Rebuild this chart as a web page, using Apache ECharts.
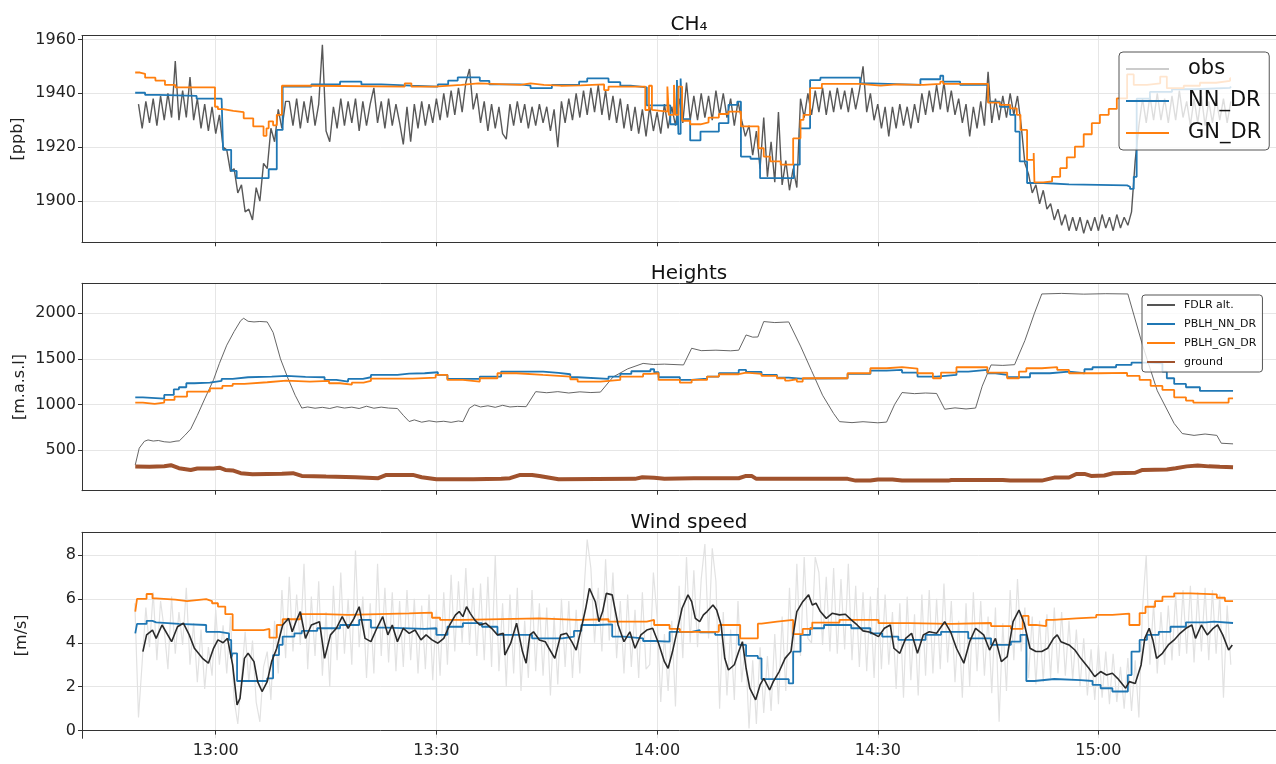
<!DOCTYPE html>
<html><head><meta charset="utf-8">
<script src="https://cdn.jsdelivr.net/npm/echarts@6/dist/echarts.min.js"></script>
<style>html,body{margin:0;padding:0;background:#fff}#c{width:1276px;height:764px}</style>
</head><body><div id="c"></div>
<script>
// time is in minutes after 12:00
const xTicks = [60, 90, 120, 150, 180];
const ch4Ticks = [1900, 1920, 1940, 1960];
const hTicks = [500, 1000, 1500, 2000];
const wTicks = [0, 2, 4, 6, 8];

// CH4 observations, every 0.5 min from 12:49:30
const obsStart = 49.5, obsStep = 0.5;
const obsValues = [
1936,1927,1937,1929,1938,1928,1939,1930,1940,1931,1952,1930,1941,1931,1946,1930,1938,1927,1936,1926,
1935,1925,1932,1920,1919,1911,1912,1903,1906,1896,1897,1893,1905,1900,1914,1912,1927,1922,1934,1927,1937,
1937,1928,1938,1927,1937,1929,1939,1928,1936,1958,
1926,1922,1935,1927,1938,1928,1937,1929,1938,1926,
1937,1928,1936,1942,1929,1937,1927,1938,1928,1936,
1929,1921,1935,1922,1936,1927,1937,1928,1936,1929,
1938,1930,1940,1931,1941,1932,1942,1933,1944,1949,
1934,1940,1929,1937,1926,1936,1927,1935,1925,1923,
1936,1928,1937,1929,
1936,1927,1935,1928,1936,1929,1935,1926,1934,1920,
1937,1929,1938,1930,1940,1931,1941,1932,1942,1933,
1943,1932,1941,1930,1939,1929,1938,1927,1936,1926,
1935,1925,1934,1924,1935,1926,1933,1925,1936,1927,
1935,1928,1938,1929,1944,1930,1939,1930,1940,1931,
1939,1930,1941,1932,1940,1931,1938,1928,1937,
1930,1924,1928,1917,1926,1912,1931,1909,1922,1907,1933,1906,1915,1904,1912,1905,
1938,1931,1940,1932,1941,1933,1942,1932,1941,1933,
1942,1934,1941,1933,1942,1934,1941,1950,1933,1940,
1930,1936,1927,1935,1924,1935,1927,1936,1928,1935,
1927,1936,1929,
1940,1932,1941,1933,1943,1934,1944,1933,1941,1932,
1938,1929,1936,1924,1935,1927,1937,1928,1948,1929,
1938,1930,1939,1931,1940,1932,1939,
1928,1914,1910,1903,1906,1899,1904,1897,1899,1893,1897,1891,1895,1889,1894,1889,1894,1888,1893,1889,
1894,1889,1895,1890,1894,1889,1895,1890,1894,1891,1896,1915,
1928,1938,1929,1939,1930,1940,1930,1938,1929,1939,1930,1941,1931,1937,1928,1938,1929,1939,1928,1937,
1929,1938,1930,1938,1929,1937
];

// CH4 model (step, value holds from given time)
const ch4NN = [[49.05,1940.2],[50.4,1939.4],[52.2,1939.0],[57.4,1938.0],[60.8,1938.6],[61.0,1919.0],[62.1,1911.2],[62.85,1908.5],[67.2,1911.8],[68.3,1926.4],[69.1,1942.5],[73.0,1943.3],[76.9,1944.3],[79.8,1943.3],[82.5,1942.8],[86.6,1942.5],[90.2,1943.3],[91.6,1944.7],[92.9,1945.9],[95.9,1944.6],[97.2,1943.3],[101.4,1942.8],[102.8,1941.9],[105.7,1943.1],[109.4,1944.3],[110.5,1945.5],[113.4,1944.1],[115.0,1942.8],[116.4,1942.2],[118.6,1935.5],[121.8,1928.5],[122.7,1944.9],[122.9,1924.9],[123.2,1945.5],[123.4,1930.4],[124.5,1922.5],[125.9,1925.8],[128.4,1928.9],[129.7,1935.7],[130.9,1936.9],[131.4,1916.5],[132.7,1915.7],[134.0,1908.5],[138.6,1913.5],[139.4,1927.0],[140.8,1944.9],[142.2,1945.8],[147.6,1943.7],[149.2,1943.1],[155.8,1945.2],[158.5,1946.5],[158.9,1944.3],[161.2,1943.1],[165.0,1936.9],[166.6,1935.0],[168.0,1932.0],[168.7,1925.8],[169.3,1914.7],[170.3,1906.7],[172.5,1906.2],[176,1906.0],[180,1905.8],[183.9,1905.3],[184.3,1904.5],[184.8,1909.0],[185.2,1938.0],[187,1940.5],[190,1941.5],[193,1942.0],[197.9,1942.5],[198,1942.5]];
const ch4GN = [[49.05,1947.7],[49.7,1947.2],[50.4,1945.8],[51.8,1944.7],[53.1,1943.1],[54.5,1942.2],[59.9,1935.0],[60.3,1934.1],[61.0,1933.5],[62.4,1933.0],[63.8,1930.7],[65.1,1927.7],[66.5,1924.2],[66.9,1927.0],[67.2,1929.6],[67.8,1928.1],[68.3,1932.0],[69.0,1942.8],[73.0,1942.5],[85.7,1943.7],[86.6,1942.5],[89.8,1943.1],[93.4,1943.7],[95.7,1943.1],[101.4,1943.7],[102.8,1943.1],[104.6,1942.8],[106.9,1942.9],[109.6,1943.3],[112.8,1941.2],[113.4,1942.5],[118.4,1933.8],[118.9,1942.8],[119.3,1933.8],[119.5,1933.2],[121.4,1942.5],[121.6,1932.0],[122.3,1943.1],[122.5,1932.0],[122.9,1942.5],[123.4,1929.8],[124.5,1928.5],[125.9,1929.2],[127.0,1931.0],[128.4,1932.3],[129.7,1933.2],[131.4,1927.7],[133.8,1919.6],[134.5,1916.5],[135.4,1914.7],[136.8,1913.5],[138.5,1923.3],[139.5,1930.1],[139.9,1932.0],[140.8,1941.9],[142.4,1943.5],[147.6,1942.8],[150.4,1943.3],[152.6,1943.1],[156.2,1943.5],[158.5,1944.3],[158.9,1943.5],[165.0,1936.5],[166.6,1935.7],[168.0,1934.4],[168.9,1932.0],[169.4,1926.4],[170.3,1915.3],[171.2,1917.8],[171.3,1906.9],[172.5,1907.3],[173.7,1909.0],[174.8,1912.2],[175.7,1916.2],[176.8,1920.2],[178.0,1924.8],[179.1,1928.9],[180.2,1932.0],[181.4,1934.2],[182.5,1938.1],[183.9,1947.0],[184.8,1943.1],[186.6,1943.7],[188.4,1946.2],[189.3,1941.9],[191.6,1942.8],[193.8,1943.9],[196,1944.6],[197.9,1945.6],[198,1945.6]];

// Heights
const fdlrAlt = [[49.06,336],[49.6,520],[50.3,595],[50.8,610],[51.5,598],[52.2,604],[53,590],[53.8,585],[54.6,597],[55.05,600],[55.8,660],[56.6,730],[57.5,880],[58.5,1060],[59.7,1270],[60.5,1450],[61.5,1650],[62.5,1800],[63.4,1920],[63.8,1945],[64.4,1912],[65.2,1905],[66,1910],[67,1905],[67.8,1790],[68.8,1500],[69.8,1290],[70.8,1100],[71.7,960],[72.5,972],[73.5,958],[74.5,968],[75.5,955],[76.5,975],[77.5,960],[78.5,970],[79.5,955],[80.5,980],[81.5,958],[82.5,970],[83.5,960],[84.7,955],[85.5,880],[86.3,812],[87,830],[88,805],[89,820],[90,808],[91,815],[92,803],[93,818],[93.6,810],[94.5,960],[95.2,994],[96,972],[97,985],[98,968],[99,990],[100,972],[101,978],[102.2,975],[103.5,1140],[105,1128],[106.5,1140],[108,1125],[109.5,1138],[111,1130],[112.3,1135],[114,1300],[116,1390],[118.1,1450],[119.5,1438],[121,1442],[123.6,1433],[124.7,1616],[126,1590],[128,1595],[130,1588],[131.1,1595],[132.1,1762],[133,1738],[133.7,1740],[134.5,1909],[136,1898],[137.9,1905],[139.5,1640],[141,1370],[142.5,1100],[144,900],[144.8,811],[146.5,800],[148,810],[150,798],[151.2,806],[152.3,1000],[153.3,1130],[155,1118],[156.5,1125],[158,1120],[159.1,947],[160.5,962],[162,950],[163.3,960],[164.2,1200],[165.4,1433],[167,1428],[168.6,1436],[170,1700],[171.3,2000],[172.3,2212],[175,2218],[178,2210],[181,2215],[184,2212],[186,1650],[188,1150],[190.3,790],[191.4,680],[193,660],[194.5,675],[196.1,660],[196.7,574],[198.3,567]];
const pblhNN = [[49.06,1078],[50.1,1064],[53.0,1104],[54.3,1166],[55.0,1188],[56.0,1232],[57.1,1239],[59.2,1258],[60.8,1280],[62.3,1298],[64.4,1305],[67.6,1312],[69.6,1302],[72.2,1298],[74.8,1269],[76.4,1250],[78.0,1280],[80.0,1298],[81.1,1323],[84.7,1338],[86.3,1342],[88.4,1353],[90.2,1323],[91.5,1280],[95.9,1305],[98.8,1360],[104.5,1345],[106.6,1331],[108.2,1298],[109.2,1280],[113.4,1305],[115.0,1334],[116.5,1364],[119.1,1386],[119.6,1353],[120.2,1298],[123.1,1269],[124.7,1283],[126.8,1305],[128.4,1342],[131.1,1378],[132.1,1356],[134.2,1323],[136.3,1294],[137.9,1283],[139.5,1287],[145.9,1334],[149.0,1371],[151.2,1378],[153.3,1349],[155.4,1305],[158.0,1323],[160.7,1360],[162.3,1378],[164.9,1342],[166.0,1323],[167.6,1298],[170.7,1342],[173.4,1360],[176.0,1342],[178.1,1386],[179.2,1408],[182.4,1433],[184.5,1459],[186.6,1451],[188.7,1360],[189.3,1287],[190.3,1225],[191.9,1188],[193.8,1148],[198.3,1148]];
const pblhGN = [[49.06,1020],[50.1,1005],[51.7,1020],[53.0,1049],[54.4,1086],[56.1,1141],[59.2,1177],[60.9,1203],[62.3,1225],[63.9,1243],[67.0,1261],[69.6,1250],[72.8,1258],[75.4,1232],[76.9,1217],[78.5,1239],[80.1,1258],[81.1,1283],[86.8,1294],[89.9,1323],[91.5,1269],[93.6,1250],[95.9,1287],[98.3,1342],[100.9,1323],[104.5,1305],[108.2,1276],[109.2,1250],[112.3,1269],[115.0,1305],[118.1,1334],[119.1,1342],[120.2,1269],[123.1,1239],[124.7,1269],[126.8,1305],[128.4,1331],[131.1,1349],[132.1,1334],[134.2,1312],[136.3,1287],[137.4,1261],[137.9,1276],[139.0,1250],[139.8,1287],[145.9,1342],[149.0,1397],[151.2,1408],[153.3,1393],[155.4,1342],[157.5,1287],[158.6,1349],[160.7,1408],[164.9,1349],[167.6,1287],[169.2,1360],[170.2,1397],[172.3,1408],[174.4,1378],[176.0,1342],[180,1345],[183.9,1312],[185.6,1269],[187.1,1203],[188.7,1159],[190.3,1078],[191.9,1042],[192.9,1020],[197.7,1067],[198.3,1067]];
const ground = [[49.06,318],[51,315],[53,322],[53.9,333],[55,300],[56.6,281],[57.5,296],[59.7,296],[60.5,305],[61.3,281],[62.3,275],[63.4,245],[65,234],[67,236],[69,238],[70.5,245],[71.7,215],[75,208],[79,200],[82.1,190],[83.2,226],[86.8,226],[88,201],[90,179],[95,180],[98.8,185],[100,190],[101.4,226],[103,226],[104,215],[106.6,179],[111.8,182],[117,183],[118,200],[119.6,195],[121,183],[125,190],[131.1,190],[132.1,215],[132.9,213],[133.5,183],[145.9,183],[147,164],[149,164],[150,176],[152,176],[153.3,164],[159.6,164],[160,171],[167,171],[168,164],[172.3,164],[174,197],[176,197],[177,237],[178.1,237],[179,215],[180.8,220],[182,245],[185,250],[186,281],[189.3,285],[190.5,299],[192,320],[193.5,329],[195,320],[196.5,315],[198.3,310]];

// Wind speed: raw, every 0.5 min from 12:49
const windStart = 49, windStep = 0.5;
const windRaw = [
5.8,0.6,3.1,5.6,3.8,6.3,3.2,5.9,4.6,2.8,6.1,3.5,5.4,3.9,6.5,3.0,4.9,2.2,4.6,1.9,
3.8,2.5,5.5,3.0,4.8,2.6,5.2,1.4,0.3,2.4,4.5,2.2,4.1,1.3,0.4,2.9,3.6,1.4,5.0,2.6,
6.4,3.3,7.0,3.6,6.2,3.9,7.6,2.8,6.1,3.4,6.8,2.5,5.4,2.0,6.6,3.2,7.2,3.5,6.0,3.0,
8.2,3.8,6.1,2.4,5.8,2.6,7.6,3.4,6.5,3.1,6.3,2.7,5.9,2.9,6.4,3.2,6.0,2.6,5.7,2.8,
6.2,2.3,5.5,2.5,6.3,3.0,7.1,3.6,6.8,4.0,7.4,3.9,6.5,3.4,6.7,3.2,7.0,2.9,8.0,2.7,
5.8,2.0,6.2,2.6,6.5,1.8,5.0,2.4,6.4,2.7,5.8,2.5,5.6,1.6,5.2,2.1,6.0,2.9,5.9,2.4,
5.5,2.6,6.0,8.7,7.4,4.0,6.5,3.6,7.8,4.1,7.2,3.3,5.9,2.6,6.2,2.9,5.5,2.4,6.3,2.8,
3.0,7.2,5.2,1.3,4.4,1.8,5.0,1.1,6.6,3.3,7.9,4.0,7.3,3.8,6.9,8.5,4.2,8.3,6.8,1.0,
5.4,1.6,4.6,1.4,5.9,2.2,4.0,0.1,3.2,0.3,3.8,0.8,3.4,0.9,4.4,1.2,5.2,1.8,6.5,2.6,
7.6,3.4,7.9,4.2,4.0,7.9,7.2,3.9,7.0,3.6,7.4,3.5,6.9,3.7,7.6,3.2,6.6,2.9,6.3,2.7,
6.1,2.4,6.5,2.8,6.2,3.0,5.4,1.9,5.8,1.5,6.1,2.3,5.3,1.6,6.2,2.5,6.4,2.6,6.0,2.8,
6.7,3.1,5.9,2.2,5.0,1.5,5.8,2.0,6.3,2.7,5.9,2.5,5.2,1.7,5.6,0.4,4.9,1.8,6.4,3.2,
6.9,3.6,5.6,2.4,5.2,2.1,5.0,2.2,5.3,2.4,5.6,2.6,5.4,2.5,5.0,2.3,4.6,2.0,4.2,1.6,
3.7,1.4,3.9,1.5,3.6,1.2,3.5,1.3,2.9,1.0,3.3,0.9,3.2,0.6,5.6,8.0,3.0,5.8,2.6,5.4,
3.0,5.7,3.2,6.2,3.4,6.4,3.5,6.6,3.1,6.3,3.6,6.5,3.2,6.4,3.5,6.2,1.5,5.7,3.0
];
const windSmooth = [[50.1,3.6],[50.6,4.36],[51.4,4.58],[51.9,4.2],[52.7,4.81],[54,4.05],[54.8,4.73],[55.6,4.89],[56.4,4.36],[57.1,3.75],[58.2,3.29],[59,3.07],[59.7,3.75],[60.3,4.13],[61,4.0],[61.6,4.2],[62.3,2.99],[62.9,1.17],[63.3,1.47],[63.9,3.29],[64.4,3.52],[65.2,3.14],[65.7,2.23],[66.3,1.78],[67,2.23],[67.6,3.14],[68.3,3.75],[69.1,4.81],[69.9,5.11],[70.4,4.5],[70.9,4.96],[71.5,5.42],[72.2,4.2],[73,4.81],[74.1,4.96],[74.8,3.29],[75.6,4.36],[76.4,4.66],[77.2,5.19],[78,4.66],[78.8,5.11],[79.5,5.64],[80.3,4.2],[81.1,4.05],[81.9,4.66],[82.7,5.19],[83.4,4.36],[84,4.81],[84.7,4.05],[85.5,4.66],[86.3,4.43],[87.1,4.58],[87.9,4.13],[88.6,4.36],[89.4,4.13],[90.2,3.98],[91,4.2],[91.8,4.81],[92.6,5.27],[93.1,5.42],[93.6,5.19],[94.1,5.64],[94.6,5.34],[95.2,5.04],[95.9,4.81],[96.7,4.89],[97.5,4.66],[98.3,4.36],[99.1,4.43],[99.3,3.44],[100.1,3.98],[100.9,4.89],[101.7,3.6],[102.2,3.07],[102.7,4.36],[103.2,4.5],[104,4.13],[104.8,4.05],[105.3,3.75],[106.1,3.29],[106.9,4.36],[107.7,4.43],[108.4,4.05],[109,3.67],[109.7,4.66],[110.3,5.57],[110.8,6.48],[111.6,5.87],[112.1,4.96],[112.6,5.42],[113.1,6.25],[113.9,6.18],[114.7,4.81],[115.5,4.05],[116.3,4.5],[117,3.75],[117.8,4.36],[118.6,4.58],[119.4,4.66],[120.2,3.98],[121,3.14],[121.5,2.84],[122.1,3.6],[122.6,4.36],[123.4,5.57],[124.2,6.18],[124.7,5.87],[125.2,5.11],[125.8,4.96],[126.3,5.27],[126.8,5.42],[127.6,5.72],[128.1,5.49],[128.7,4.81],[129.2,3.29],[129.7,2.76],[130.5,3.0],[131.1,3.6],[131.6,4.05],[132.1,2.84],[132.6,1.93],[133.4,1.4],[134,2.08],[134.5,2.38],[135.3,1.85],[135.8,2.23],[136.6,2.69],[137.4,3.29],[138.2,3.6],[138.5,4.36],[139,5.42],[139.8,5.87],[140.6,6.18],[141.1,5.72],[141.6,5.8],[142.2,5.42],[143,5.11],[143.8,5.34],[144.8,5.27],[145.6,5.3],[146.4,5.04],[147.2,4.81],[148,4.54],[149,4.48],[150.1,4.28],[150.9,4.66],[151.7,4.81],[152.2,3.75],[153,3.52],[153.8,4.2],[154.6,4.43],[155.4,3.52],[156.2,4.36],[157,4.5],[158,4.43],[159.1,4.96],[159.9,4.5],[160.7,3.75],[161.7,3.07],[162.5,4.05],[163.3,4.66],[164.4,4.36],[165.2,3.67],[166,4.2],[166.8,3.14],[167.6,3.37],[168.4,4.96],[169.2,5.49],[169.9,4.89],[170.7,3.75],[171.5,3.6],[172.3,3.6],[173.1,3.75],[173.9,4.2],[174.4,4.36],[174.9,4.05],[176,3.9],[176.8,3.67],[177.6,3.29],[178.7,2.84],[179.5,2.46],[180.3,2.69],[181.1,2.53],[181.9,2.61],[182.6,2.38],[183.7,1.93],[184.2,2.23],[185,2.15],[185.8,2.99],[186.3,4.2],[186.9,4.66],[187.4,4.13],[187.9,3.29],[188.7,3.52],[189.5,3.9],[190.3,4.13],[191.1,4.43],[191.9,4.66],[192.7,4.81],[193.2,4.2],[194,4.81],[194.8,4.36],[195.6,4.66],[196.2,4.81],[196.9,4.36],[197.7,3.67],[198.2,3.9]];
const windNN = [[49.06,4.43],[49.3,4.86],[50.6,5.0],[51.4,4.93],[51.9,4.86],[55.0,4.81],[58.7,4.5],[60.5,4.43],[61.8,4.13],[62.1,3.29],[62.3,3.52],[62.9,2.26],[67.0,2.38],[67.8,3.44],[68.6,3.9],[69.1,4.28],[70.7,4.43],[71.7,4.54],[73.8,4.66],[76.9,4.81],[79.5,5.04],[81.1,4.69],[83.2,4.63],[88.4,4.66],[90.0,4.36],[91.5,4.73],[93.6,4.89],[96.2,4.73],[98.3,4.36],[103.0,4.2],[107.1,4.28],[108.7,4.54],[109.7,4.81],[111.8,4.84],[113.9,4.28],[115.5,4.2],[118.1,4.08],[119.6,4.05],[121.7,4.5],[124.7,4.58],[125.8,4.48],[127.9,4.36],[131.1,3.9],[132.1,3.4],[133.7,3.29],[134.2,2.34],[137.9,2.15],[138.5,3.6],[139.5,4.36],[140.8,4.66],[142.7,4.81],[146.4,4.66],[149.0,4.43],[150.6,4.28],[152.8,4.13],[156.5,4.36],[158.6,4.5],[162.3,4.2],[165.4,3.9],[168.1,4.05],[169.4,4.36],[170.2,2.26],[171.3,2.35],[174,2.3],[177.6,2.26],[179.2,2.08],[180.3,1.93],[181.9,1.78],[184.0,2.53],[184.5,3.6],[185.6,4.13],[186.6,4.36],[188.2,4.5],[189.8,4.73],[191.9,4.93],[194.6,4.96],[195.7,4.9],[198.3,4.9]];
const windGN = [[49.06,5.42],[49.3,6.0],[50.6,6.22],[51.4,6.02],[51.9,5.96],[54.5,5.9],[56.1,5.99],[58.7,5.9],[59.5,5.8],[60.3,5.65],[61.3,5.3],[62.3,4.58],[66.5,4.63],[67.3,4.23],[68.3,4.81],[69.1,5.07],[71.5,5.3],[74.8,5.27],[78.0,5.34],[86.3,5.37],[89.4,5.14],[90.5,5.04],[93.6,5.11],[104.0,5.04],[109.2,5.07],[113.4,4.96],[118.6,5.04],[119.6,4.81],[121.7,4.63],[123.1,4.5],[128.4,4.81],[131.3,4.2],[133.7,4.87],[134.2,4.96],[136.3,5.04],[138.5,4.39],[139.8,4.63],[141.1,4.92],[144.8,5.04],[150.1,4.89],[154.3,4.86],[160,4.9],[165.4,4.76],[168.1,4.63],[169.7,5.22],[170.5,4.81],[171.5,4.76],[172.9,5.04],[173.9,5.11],[177,5.16],[179.7,5.27],[181.9,5.33],[184.2,4.81],[185.6,5.35],[186.4,5.64],[187.7,5.9],[188.7,6.1],[190.3,6.25],[192.5,6.2],[196.1,6.05],[197.2,5.9],[198.3,5.9]];

const FONT = 'DejaVu Sans';
const BLUE = '#1f77b4', ORANGE = '#ff7f0e';
const XMIN = 41.82, XMAX = 205.5;
const chart = echarts.init(document.getElementById('c'), null, {renderer: 'canvas'});

function fmtTime(v) {
  const h = 12 + Math.floor(v / 60);
  const m = Math.round(v % 60);
  return h + ':' + String(m).padStart(2, '0');
}
const gridDefs = [
  {top: 35.6, height: 206.7},
  {top: 283.3, height: 207.4},
  {top: 532.3, height: 206}
];
const yDefs = [
  {min: 1884.7, max: 1961.4, ticks: ch4Ticks, name: '[ppb]', gap: 56},
  {min: 53, max: 2329, ticks: hTicks, name: '[m.a.s.l]', gap: 54},
  {min: -0.35, max: 9.03, ticks: wTicks, name: '[m/s]', gap: 52}
];
const grids = gridDefs.map(g => ({left: 82, width: 1204, top: g.top, height: g.height,
  outerBoundsMode: 'none', containLabel: false, show: false}));
const xAxes = [];
gridDefs.forEach((g, i) => {
  xAxes.push({
    type: 'value', gridIndex: i, min: XMIN, max: XMAX, position: 'bottom',
    axisLine: {show: true, lineStyle: {color: '#333', width: 1}},
    axisTick: {show: true, customValues: xTicks, length: 4, lineStyle: {color: '#333'}},
    axisLabel: {show: i === 2, customValues: xTicks, formatter: fmtTime, fontSize: 16,
      fontFamily: FONT, color: '#222', margin: 5},
    splitLine: {show: true, lineStyle: {color: '#e6e6e6', width: 1}}
  });
});
gridDefs.forEach((g, i) => {
  // top frame line of each panel
  xAxes.push({
    type: 'value', gridIndex: i, min: XMIN, max: XMAX, position: 'top',
    axisLine: {show: true, onZero: false, lineStyle: {color: '#333', width: 1}},
    axisTick: {show: false}, axisLabel: {show: false}, splitLine: {show: false}
  });
});
const yAxes = yDefs.map((d, i) => ({
  type: 'value', gridIndex: i, min: d.min, max: d.max,
  name: d.name, nameLocation: 'middle', nameGap: d.gap, nameRotate: 90, nameMoveOverlap: false,
  nameTextStyle: {fontSize: 16, fontFamily: FONT, color: '#222'},
  axisLine: {show: true, onZero: false, lineStyle: {color: '#333', width: 1}},
  axisTick: {show: true, customValues: d.ticks, length: 4, lineStyle: {color: '#333'}},
  axisLabel: {customValues: d.ticks, formatter: v => String(v), fontSize: 16, fontFamily: FONT, color: '#222', margin: 6},
  splitLine: {show: true, lineStyle: {color: '#e6e6e6', width: 1}}
}));

function line(name, idx, data, color, width, step, z) {
  return {name, type: 'line', xAxisIndex: idx, yAxisIndex: idx, data,
    step: step ? 'end' : false, symbol: 'none', showSymbol: false, z: z || 2,
    lineStyle: {color, width}, itemStyle: {color}, emphasis: {disabled: true},
    animation: false, silent: true};
}
const obsData = obsValues.map((v, i) => [obsStart + i * obsStep, v]);
const windRawData = windRaw.map((v, i) => [windStart + i * windStep, v]);

const series = [
  line('obs', 0, obsData, 'rgba(70,70,70,0.9)', 1.4, false, 2),
  line('NN_DR', 0, ch4NN, BLUE, 1.8, true, 3),
  line('GN_DR', 0, ch4GN, ORANGE, 1.8, true, 4),
  line('FDLR alt.', 1, fdlrAlt, '#555', 0.9, false, 2),
  line('PBLH_NN_DR', 1, pblhNN, BLUE, 1.8, true, 3),
  line('PBLH_GN_DR', 1, pblhGN, ORANGE, 1.8, true, 4),
  line('ground', 1, ground, '#a0522d', 4, false, 5),
  line('wind raw', 2, windRawData, '#e2e2e2', 1.2, false, 1),
  line('wind NN_DR', 2, windNN, BLUE, 1.8, true, 3),
  line('wind GN_DR', 2, windGN, ORANGE, 1.8, true, 4),
  line('wind smooth', 2, windSmooth, '#2a2a2a', 1.6, false, 5)
];

chart.setOption({
  animation: false,
  backgroundColor: '#fff',
  title: [
    {text: 'CH₄', left: 684, top: 10, textAlign: 'center', textStyle: {fontSize: 20, fontWeight: 'normal', color: '#111', fontFamily: FONT}},
    {text: 'Heights', left: 684, top: 259, textAlign: 'center', textStyle: {fontSize: 20, fontWeight: 'normal', color: '#111', fontFamily: FONT}},
    {text: 'Wind speed', left: 684, top: 508, textAlign: 'center', textStyle: {fontSize: 20, fontWeight: 'normal', color: '#111', fontFamily: FONT}}
  ],
  legend: [
    {orient: 'vertical', left: 1119, top: 52, selectedMode: false, z: 20,
     data: [{name: 'obs', lineStyle: {color: '#9a9a9a', width: 1.2}}, 'NN_DR', 'GN_DR'],
     itemWidth: 43, itemHeight: 14, itemGap: 8, padding: [5, 8, 5, 6],
     itemStyle: {opacity: 0},
     textStyle: {fontSize: 21, fontFamily: FONT, color: '#111', lineHeight: 24, padding: [0, 0, 0, 14]},
     backgroundColor: 'rgba(255,255,255,0.8)', borderColor: '#555', borderWidth: 1, borderRadius: 4},
    {orient: 'vertical', left: 1142, top: 295, selectedMode: false, z: 20,
     data: ['FDLR alt.', 'PBLH_NN_DR', 'PBLH_GN_DR', 'ground'],
     itemWidth: 28, itemHeight: 10, itemGap: 5, padding: [3, 6, 3, 4],
     itemStyle: {opacity: 0},
     textStyle: {fontSize: 11, fontFamily: FONT, color: '#111', lineHeight: 14, padding: [0, 0, 0, 4]},
     backgroundColor: 'rgba(255,255,255,0.8)', borderColor: '#555', borderWidth: 1, borderRadius: 3}
  ],
  grid: grids,
  xAxis: xAxes,
  yAxis: yAxes,
  series
});
</script></body></html>
